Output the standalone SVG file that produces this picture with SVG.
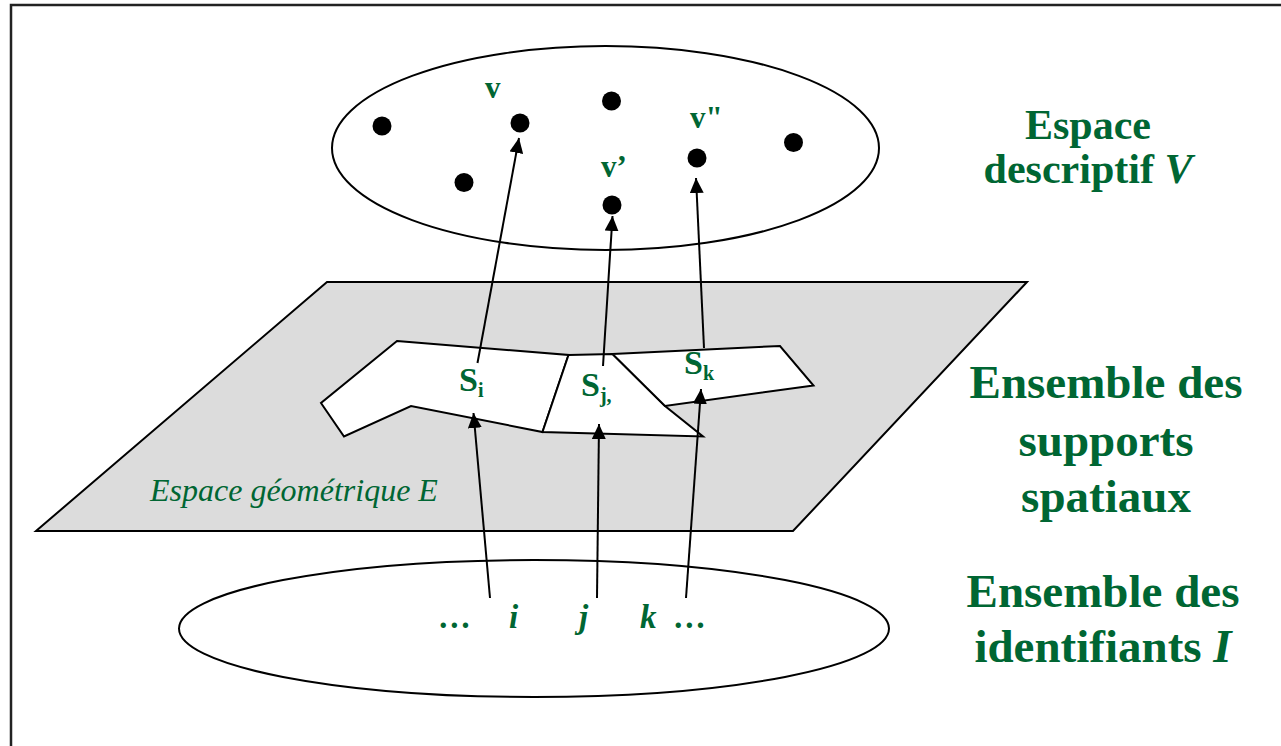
<svg xmlns="http://www.w3.org/2000/svg" width="1281" height="746" viewBox="0 0 1281 746">
<defs>
<marker id="ah" markerUnits="userSpaceOnUse" markerWidth="15" markerHeight="14" refX="15" refY="7" orient="auto">
<path d="M0,0 L15,7 L0,14 z" fill="#000"/>
</marker>
<style>
.ln{stroke:#000;stroke-width:2;fill:none}
.sh{stroke:#000;stroke-width:2;fill:#fff;stroke-linejoin:miter}
.dot{fill:#000}
.g{fill:#006633;font-family:"Liberation Serif","Times New Roman",serif;font-weight:bold}
.gi{fill:#006633;font-family:"Liberation Serif","Times New Roman",serif;font-style:italic}
.big{font-size:47px;text-anchor:middle}
.arr{stroke:#000;stroke-width:2;fill:none;marker-end:url(#ah)}
</style>
</defs>
<rect x="0" y="0" width="1281" height="746" fill="#fff"/>
<rect x="11" y="5" width="1290" height="760" fill="none" stroke="#222" stroke-width="2.5"/>

<g id="espace-descriptif">
<ellipse cx="605.5" cy="148" rx="273.5" ry="102" class="ln"/>
<circle class="dot" cx="382" cy="126" r="9.5"/>
<circle class="dot" cx="520" cy="123" r="9.5"/>
<circle class="dot" cx="611.5" cy="101" r="9.5"/>
<circle class="dot" cx="697" cy="158" r="9.5"/>
<circle class="dot" cx="793.5" cy="142.5" r="9.5"/>
<circle class="dot" cx="464" cy="182.5" r="9.5"/>
<circle class="dot" cx="612" cy="205" r="9.5"/>
<text class="g" x="485" y="98" font-size="31">v</text>
<text class="g" x="601" y="177" font-size="31">v’</text>
<text class="g" x="690" y="128" font-size="31">v"</text>
</g>

<g id="espace-geometrique">
<polygon points="327,282 1027,282 793,531 36,531" fill="#dcdcdc" stroke="#000" stroke-width="2"/>
<text class="gi" x="150" y="501" font-size="32">Espace géométrique E</text>
</g>

<g id="supports">
<polygon class="sh" points="397,341 568.5,355 542.5,432 411,406 344,436.5 321,403"/>
<polygon class="sh" points="568.5,355 612.5,354 665,406 703,436.5 542.5,432"/>
<polygon class="sh" points="612.5,354 780,346 813.5,385.5 665,406"/>
<text class="g" x="459" y="391" font-size="34">S<tspan font-size="20" dy="6">i</tspan></text>
<text class="g" x="581" y="396" font-size="34">S<tspan font-size="20" dy="6">j,</tspan></text>
<text class="g" x="684" y="374" font-size="34">S<tspan font-size="20" dy="6">k</tspan></text>
</g>

<g id="identifiants">
<ellipse cx="534" cy="628.5" rx="355" ry="68.5" class="ln"/>
<text class="g" font-style="italic" font-size="33" y="628"><tspan x="439">…</tspan><tspan x="509">i</tspan><tspan x="579">j</tspan><tspan x="640">k</tspan><tspan x="674">…</tspan></text>
</g>

<g id="connectors">
<line class="arr" x1="490" y1="598" x2="473.5" y2="413"/>
<line class="arr" x1="597" y1="598" x2="599" y2="424"/>
<line class="arr" x1="686" y1="598" x2="701" y2="389"/>
<line class="arr" x1="477.5" y1="363" x2="519" y2="138"/>
<line class="arr" x1="603" y1="366" x2="612.5" y2="216"/>
<line class="arr" x1="704" y1="348" x2="696" y2="178"/>
</g>

<g id="label-V">
<text class="g" font-size="42" text-anchor="middle"><tspan x="1088" y="139">Espace</tspan><tspan x="1088" y="183">descriptif <tspan font-style="italic">V</tspan></tspan></text>
</g>
<g id="label-supports">
<text class="g big"><tspan x="1106" y="398">Ensemble des</tspan><tspan x="1106" y="456">supports</tspan><tspan x="1106" y="512">spatiaux</tspan></text>
</g>
<g id="label-I">
<text class="g big"><tspan x="1103" y="607">Ensemble des</tspan><tspan x="1103" y="662">identifiants <tspan font-style="italic">I</tspan></tspan></text>
</g>
</svg>
